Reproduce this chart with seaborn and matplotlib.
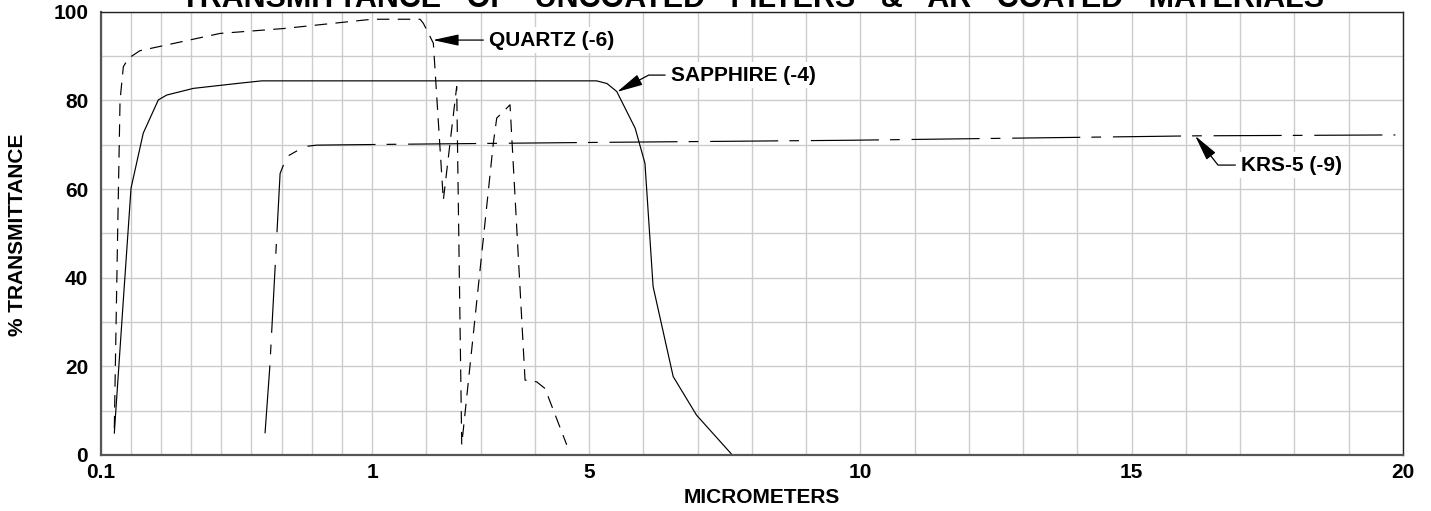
import numpy as np
import matplotlib
matplotlib.use("Agg")
import matplotlib.pyplot as plt
import seaborn as sns

# wavelength (micrometers) / transmittance (%)
quartz_x = [0.145, 0.155, 0.164, 0.175, 0.192, 0.230, 0.496, 0.706, 1.0, 1.885, 1.945,
            2.13, 2.314, 2.56, 2.653, 3.235, 3.298, 3.543, 3.82, 4.035, 4.188, 4.588]
quartz_y = [6, 46, 80, 87.6, 89.5, 91.2, 95.1, 96.2, 98.3, 98.3, 97.4,
            92.9, 57.5, 83.1, 2.3, 70.3, 76, 79, 16.9, 16.5, 15, 2.3]

sapphire_x = [0.145, 0.175, 0.2005, 0.241, 0.291, 0.319, 0.407, 0.551, 0.634, 5.14,
              5.33, 5.51, 5.85, 6.03, 6.18, 6.55, 6.98, 7.64]
sapphire_y = [4.9, 35, 60.2, 72.6, 80.1, 81.2, 82.7, 83.8, 84.4, 84.4,
              83.8, 82, 73.7, 65.8, 38, 17.7, 9, 0]

krs5_x = [0.645, 0.661, 0.695, 0.717, 0.756, 0.767, 0.8165, 1.5, 5.0, 9.81, 16.2, 19.86]
krs5_y = [4.9, 20, 63.5, 67.3, 68.8, 69.5, 69.9, 70.1, 70.5, 71, 72, 72.2]

x_major = [0.1, 1, 5, 10, 15, 20]
x_major_labels = ["0.1", "1", "5", "10", "15", "20"]
y_major = [0, 20, 40, 60, 80, 100]

title = "TRANSMITTANCE   OF   UNCOATED   FILTERS   &   AR   COATED   MATERIALS"

sns.set_style("white")
plt.rcParams["font.family"] = ["Liberation Sans", "DejaVu Sans"]
plt.rcParams["font.weight"] = "bold"
plt.rcParams["lines.scale_dashes"] = False
for key in ["text.color", "xtick.color", "ytick.color", "axes.labelcolor"]:
    plt.rcParams[key] = "black"


# 0.1-1 takes the same width as 5 whole micrometers, linear on both sides
def fwd(x):
    x = np.asarray(x, dtype=float)
    return np.where(x <= 1, (x - 0.1) / 0.18, x + 4)


def inv(u):
    u = np.asarray(u, dtype=float)
    return np.where(u <= 5, 0.1 + u * 0.18, u - 4)


fig = plt.figure(figsize=(14.31, 5.11), dpi=100)
ax = fig.add_axes([0.0704, 0.1096, 0.9100, 0.8675])
ax.set_xscale("function", functions=(fwd, inv))

sns.lineplot(x=quartz_x, y=quartz_y, ax=ax, color="black", lw=0.85,
             linestyle=(0, (9, 6)))
sns.lineplot(x=sapphire_x, y=sapphire_y, ax=ax, color="black", lw=0.85)
sns.lineplot(x=krs5_x, y=krs5_y, ax=ax, color="black", lw=0.85,
             linestyle=(0, (49, 8, 7, 8.5)))

ax.set_xlim(0.1, 20)
ax.set_ylim(0, 100)
ax.set_xticks(x_major)
ax.set_xticklabels(x_major_labels)
ax.set_xticks([v / 10 for v in range(2, 10)] + [v for v in range(2, 20) if v not in x_major],
              minor=True)
ax.set_yticks(y_major)
ax.set_yticks(list(range(10, 100, 20)), minor=True)
ax.tick_params(axis="both", which="both", length=0, labelsize=15, labelcolor="black")
ax.tick_params(axis="x", pad=6)
ax.tick_params(axis="y", pad=9)
for lab in ax.get_xticklabels() + ax.get_yticklabels():
    lab.set_fontweight("bold")

ax.grid(True, which="both", color="#cccccc", lw=1.0)
ax.set_axisbelow(True)
for side in ["left", "bottom"]:
    ax.spines[side].set_color("#555555")
    ax.spines[side].set_linewidth(1.6)
for side in ["top", "right"]:
    ax.spines[side].set_color("#222222")
    ax.spines[side].set_linewidth(1.0)

box = dict(boxstyle="square,pad=0.15", fc="white", ec="none")
head = "-|>,head_length=1.6,head_width=0.35"
ax.annotate("QUARTZ (-6)", xy=(2.12, 93.6), xytext=(3.16, 93.6),
            ha="left", va="center", fontsize=15, fontweight="bold", bbox=box,
            arrowprops=dict(arrowstyle=head, color="black", lw=0.9,
                            mutation_scale=10, shrinkA=2, shrinkB=0))
ax.annotate("SAPPHIRE (-4)", xy=(5.515, 81.9), xytext=(6.51, 85.7),
            ha="left", va="center", fontsize=15, fontweight="bold", bbox=box,
            arrowprops=dict(arrowstyle=head, color="black", lw=0.9,
                            mutation_scale=10, shrinkA=2, shrinkB=0,
                            connectionstyle="angle,angleA=0,angleB=28,rad=0"))
ax.annotate("KRS-5 (-9)", xy=(16.17, 72), xytext=(17.02, 65.4),
            ha="left", va="center", fontsize=15, fontweight="bold", bbox=box,
            arrowprops=dict(arrowstyle=head, color="black", lw=0.9,
                            mutation_scale=10, shrinkA=2, shrinkB=0,
                            connectionstyle="angle,angleA=0,angleB=128,rad=0"))

ax.set_xlabel("")
ax.set_ylabel("")
fig.text(762 / 1431, 1 - 497 / 511, "MICROMETERS", ha="center", va="center",
         fontsize=15, fontweight="bold")
fig.text(18 / 1431, 1 - 235 / 511, "% TRANSMITTANCE", ha="center", va="center",
         rotation=90, fontsize=15, fontweight="bold")
# title sits partly above the top edge, as in the scanned original
fig.text(753 / 1431, 1 - 7 / 511, title, ha="center", va="baseline",
         fontsize=22, fontweight="bold")

fig.savefig("out.png", dpi=100)
